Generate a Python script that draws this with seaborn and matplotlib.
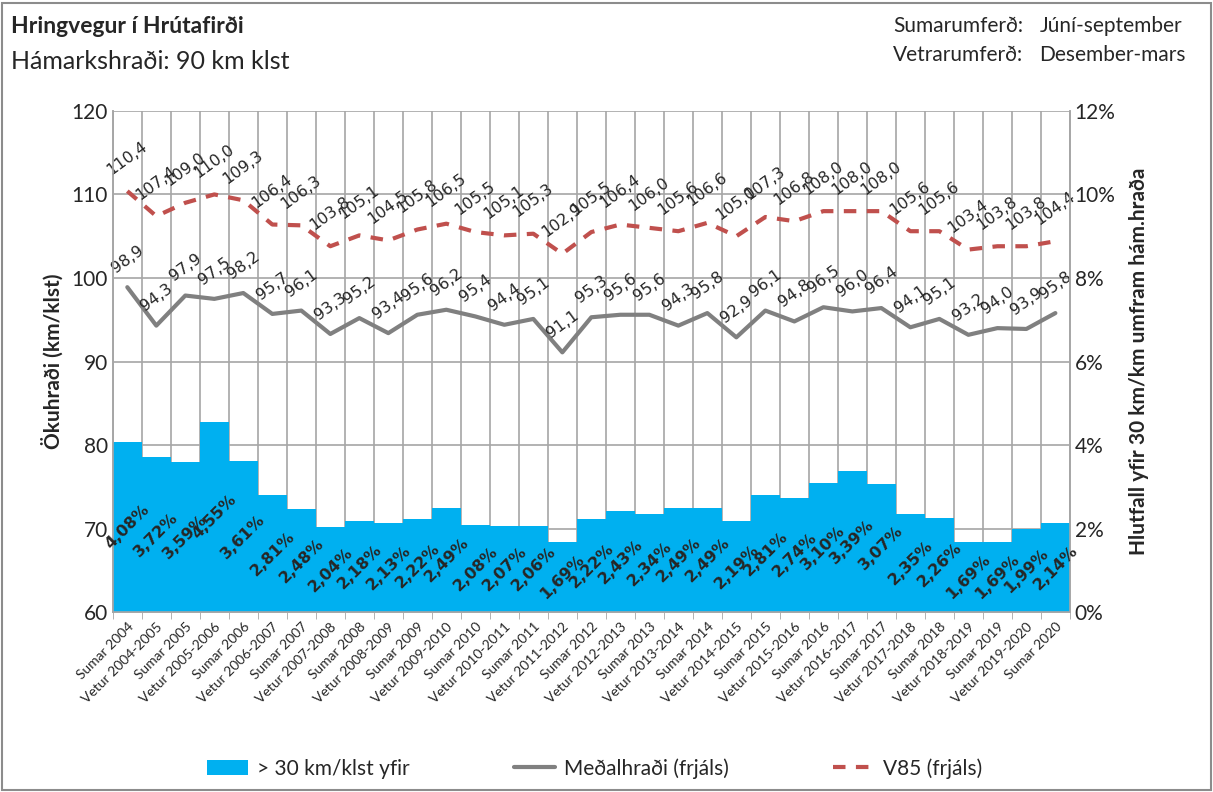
import numpy as np
import matplotlib
matplotlib.use("Agg")
import matplotlib.pyplot as plt
from matplotlib.patches import Patch, Rectangle
from matplotlib.lines import Line2D
import seaborn as sns

# Data
periods = ["Sumar 2004", "Vetur 2004-2005", "Sumar 2005", "Vetur 2005-2006", "Sumar 2006",
           "Vetur 2006-2007", "Sumar 2007", "Vetur 2007-2008", "Sumar 2008", "Vetur 2008-2009",
           "Sumar 2009", "Vetur 2009-2010", "Sumar 2010", "Vetur 2010-2011", "Sumar 2011",
           "Vetur 2011-2012", "Sumar 2012", "Vetur 2012-2013", "Sumar 2013", "Vetur 2013-2014",
           "Sumar 2014", "Vetur 2014-2015", "Sumar 2015", "Vetur 2015-2016", "Sumar 2016",
           "Vetur 2016-2017", "Sumar 2017", "Vetur 2017-2018", "Sumar 2018", "Vetur 2018-2019",
           "Sumar 2019", "Vetur 2019-2020", "Sumar 2020"]

over30_pct = [4.08, 3.72, 3.59, 4.55, 3.61, 2.81, 2.48, 2.04, 2.18, 2.13, 2.22, 2.49, 2.08,
              2.07, 2.06, 1.69, 2.22, 2.43, 2.34, 2.49, 2.49, 2.19, 2.81, 2.74, 3.10, 3.39,
              3.07, 2.35, 2.26, 1.69, 1.69, 1.99, 2.14]

mean_speed = [98.9, 94.3, 97.9, 97.5, 98.2, 95.7, 96.1, 93.3, 95.2, 93.4, 95.6, 96.2, 95.4,
              94.4, 95.1, 91.1, 95.3, 95.6, 95.6, 94.3, 95.8, 92.9, 96.1, 94.8, 96.5, 96.0,
              96.4, 94.1, 95.1, 93.2, 94.0, 93.9, 95.8]

v85_speed = [110.4, 107.4, 109.0, 110.0, 109.3, 106.4, 106.3, 103.8, 105.1, 104.5, 105.8,
             106.5, 105.5, 105.1, 105.3, 102.9, 105.5, 106.4, 106.0, 105.6, 106.6, 105.0,
             107.3, 106.8, 108.0, 108.0, 108.0, 105.6, 105.6, 103.4, 103.8, 103.8, 104.4]

BLUE = "#00B0F0"
GRAY = "#808080"
RED = "#C0504D"
GRID = "#A6A6A6"

sns.set_style("white")
plt.rcParams["font.family"] = ["Lato", "DejaVu Sans"]

fig = plt.figure(figsize=(12.13, 7.92), dpi=100)
ax = fig.add_axes([0.093, 0.227, 0.789, 0.633])
ax2 = ax.twinx()

n = len(periods)
xs = np.arange(n)

# Bars (right axis, percent)
sns.barplot(x=xs, y=over30_pct, color=BLUE, width=1.0, linewidth=0, saturation=1,
            ax=ax2, zorder=1)
ax2.set_ylim(0, 12)
ax2.set_yticks(np.arange(0, 13, 2))
ax2.set_yticklabels([f"{v}%" for v in range(0, 13, 2)], fontsize=15)
ax2.set_ylabel("Hlutfall yfir 30 km/km umfram hám.hraða", fontsize=15, fontweight="bold",
               labelpad=10)

for i, p in enumerate(over30_pct):
    ax2.text(i, p / 2, f"{p:.2f}%".replace(".", ","), rotation=45, ha="center", va="center",
             rotation_mode="anchor", fontsize=11.5, fontweight="bold", family="DejaVu Sans")

# Lines (left axis, km/klst)
sns.lineplot(x=xs, y=mean_speed, color=GRAY, lw=3, ax=ax, zorder=3)
sns.lineplot(x=xs, y=v85_speed, color=RED, lw=3, ax=ax, zorder=3, dashes=False,
             linestyle=(0, (3, 2.5)))

for i, v in enumerate(mean_speed):
    ax.annotate(f"{v:.1f}".replace(".", ","), (i, v), xytext=(0, 20), textcoords="offset points",
                rotation=36, ha="center", va="center", rotation_mode="anchor",
                fontsize=11.5, family="DejaVu Sans")
for i, v in enumerate(v85_speed):
    ax.annotate(f"{v:.1f}".replace(".", ","), (i, v), xytext=(0, 24), textcoords="offset points",
                rotation=36, ha="center", va="center", rotation_mode="anchor",
                fontsize=11.5, family="DejaVu Sans")

ax.set_ylim(60, 120)
ax.set_yticks(np.arange(60, 121, 10))
ax.tick_params(axis="y", labelsize=15, length=0)
ax2.tick_params(axis="y", length=0)
ax.set_ylabel("Ökuhraði (km/klst)", fontsize=15, fontweight="bold", labelpad=6)

ax.set_xlim(-0.5, n - 0.5)
ax.set_xticks(xs)
ax.set_xticklabels(periods, rotation=45, ha="right", rotation_mode="anchor", fontsize=10)
ax.set_xticks(np.arange(-0.5, n, 1), minor=True)
ax.tick_params(axis="x", which="major", length=0, pad=6)
ax.tick_params(axis="x", which="minor", length=5, color=GRID, direction="out", bottom=True)
ax.set_xlabel("")
ax2.set_xlabel("")

ax.grid(True, axis="y", color=GRID, lw=1.2)
ax.grid(True, axis="x", which="minor", color=GRID, lw=1.2)
ax.grid(False, axis="x", which="major")
ax2.grid(False)

for a in (ax, ax2):
    a.spines["top"].set_visible(False)
    for s in ("left", "right", "bottom"):
        a.spines[s].set_color(GRID)
        a.spines[s].set_linewidth(1.2)

# Titles
fig.text(0.009, 0.967, "Hringvegur í Hrútafirði", fontsize=16.5, fontweight="bold", va="center")
fig.text(0.009, 0.922, "Hámarkshraði: 90 km klst", fontsize=18, va="center")
fig.text(0.736, 0.967, "Sumarumferð:", fontsize=15, va="center")
fig.text(0.857, 0.967, "Júní-september", fontsize=15, va="center")
fig.text(0.736, 0.930, "Vetrarumferð:", fontsize=15, va="center")
fig.text(0.857, 0.930, "Desember-mars", fontsize=15, va="center")

# Legend
handles = [Patch(facecolor=BLUE, edgecolor="none"),
           Line2D([], [], color=GRAY, lw=3),
           Line2D([], [], color=RED, lw=3, linestyle=(0, (3, 2.5)))]
labels = ["> 30 km/klst yfir", "Meðalhraði (frjáls)", "V85 (frjáls)"]
fig.legend(handles, labels, loc="center", bbox_to_anchor=(0.49, 0.03), ncol=3, frameon=False,
           fontsize=15, columnspacing=5, handlelength=2.0, handletextpad=0.4)

fig.patches.append(Rectangle((0.002, 0.002), 0.996, 0.994, transform=fig.transFigure,
                             fill=False, edgecolor="#8C8C8C", lw=1.5))

fig.savefig("out.png", dpi=100)
